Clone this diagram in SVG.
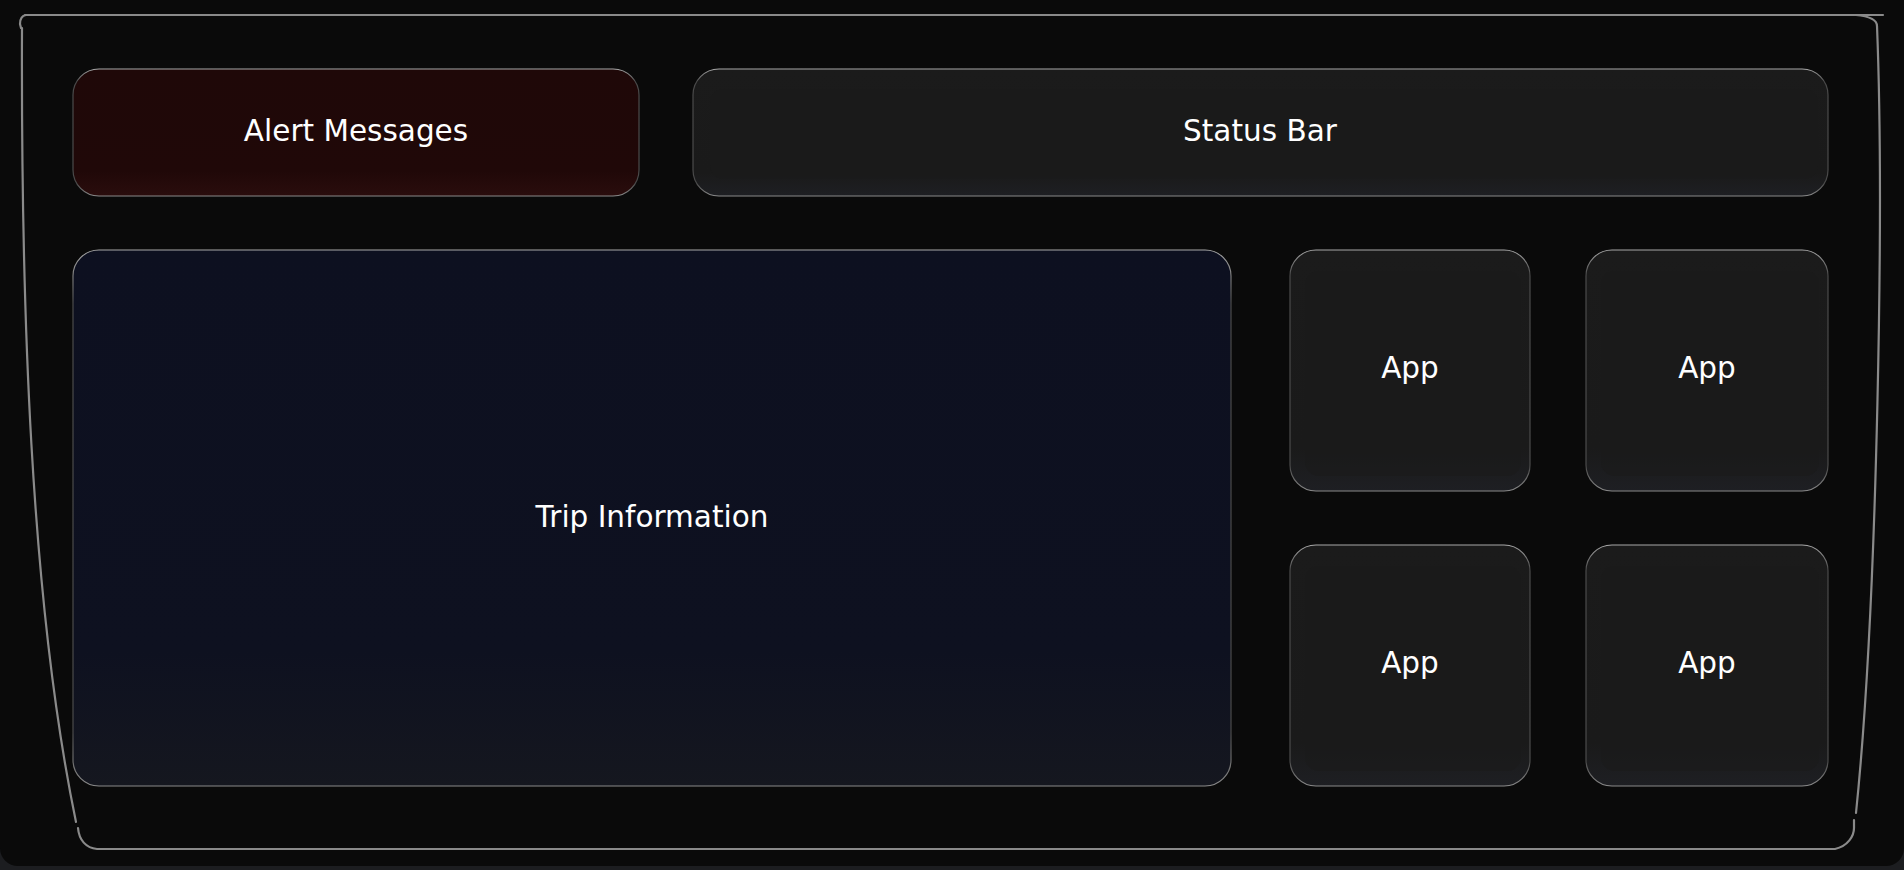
<svg xmlns="http://www.w3.org/2000/svg" width="1904" height="870" viewBox="0 0 1904 870">
  <defs>
    <style>
      .lbl { font-family: "DejaVu Sans", "Liberation Sans", sans-serif; font-size: 29.5px; fill: #ffffff; text-anchor: middle; }
      .frame { fill: none; stroke: #8a8a8a; stroke-width: 2.2; stroke-linecap: round; stroke-linejoin: round; }
      .edge { stroke: #6e6e6e; stroke-width: 1.2; }
    </style>
    <linearGradient id="gStroke" x1="0" y1="0" x2="0" y2="1">
      <stop offset="0" stop-color="#a8a8a8"/>
      <stop offset="0.1" stop-color="#4a4a4a"/>
      <stop offset="0.9" stop-color="#4a4a4a"/>
      <stop offset="1" stop-color="#8a8a8a"/>
    </linearGradient>
    <linearGradient id="gGray" x1="0" y1="0" x2="0" y2="1">
      <stop offset="0" stop-color="#1b1b1b"/>
      <stop offset="0.82" stop-color="#1a1a1a"/>
      <stop offset="1" stop-color="#1e1f23"/>
    </linearGradient>
    <linearGradient id="gRed" x1="0" y1="0" x2="0" y2="1">
      <stop offset="0" stop-color="#1f0808"/>
      <stop offset="0.8" stop-color="#200808"/>
      <stop offset="1" stop-color="#2a0d0d"/>
    </linearGradient>
    <linearGradient id="gBlue" x1="0" y1="0" x2="0" y2="1">
      <stop offset="0" stop-color="#0d1020"/>
      <stop offset="0.75" stop-color="#0e1120"/>
      <stop offset="1" stop-color="#15171f"/>
    </linearGradient>
  </defs>

  <rect x="0" y="0" width="1904" height="870" fill="#1c1d20"/>
  <rect x="0" y="-20" width="1904" height="886" rx="18" fill="#0a0a0a"/>

  <g id="frame">
    <path class="frame" d="M 25,15 L 1883,15"/>
    <path class="frame" d="M 26,15 Q 20,16 20,24 L 21,28"/>
    <path class="frame" d="M 22,28 C 21,300 30,600 76,822"/>
    <path class="frame" d="M 78,828 C 79,840 86,848 97,849 L 1835,849 C 1848,846 1854,836 1854,828 L 1854,820"/>
    <path class="frame" d="M 1856,15 Q 1877,17 1877,26"/>
    <path class="frame" d="M 1877,26 C 1884,200 1878,600 1856,813"/>
  </g>

  <g id="alert-messages">
    <rect x="73" y="69" width="566" height="127" rx="26" fill="url(#gRed)" stroke="url(#gStroke)" stroke-width="1.2"/>
    <text class="lbl" x="356" y="141">Alert Messages</text>
  </g>

  <g id="status-bar">
    <rect x="693" y="69" width="1135" height="127" rx="26" fill="url(#gGray)" stroke="url(#gStroke)" stroke-width="1.2"/>
    <rect x="710" y="89" width="1108" height="90" rx="14" fill="#1a1a1a" opacity="0.6"/>
    <text class="lbl" x="1260" y="141">Status Bar</text>
  </g>

  <g id="trip-information">
    <rect x="73" y="250" width="1158" height="536" rx="26" fill="url(#gBlue)" stroke="url(#gStroke)" stroke-width="1.2"/>
    <text class="lbl" x="652" y="527">Trip Information</text>
  </g>

  <g id="app-1">
    <rect x="1290" y="250" width="240" height="241" rx="26" fill="url(#gGray)" stroke="url(#gStroke)" stroke-width="1.2"/>
    <rect x="1305" y="271" width="216" height="205" rx="14" fill="#1a1a1a" opacity="0.6"/>
    <text class="lbl" x="1410" y="378">App</text>
  </g>

  <g id="app-2">
    <rect x="1586" y="250" width="242" height="241" rx="26" fill="url(#gGray)" stroke="url(#gStroke)" stroke-width="1.2"/>
    <rect x="1601" y="271" width="218" height="205" rx="14" fill="#1a1a1a" opacity="0.6"/>
    <text class="lbl" x="1707" y="378">App</text>
  </g>

  <g id="app-3">
    <rect x="1290" y="545" width="240" height="241" rx="26" fill="url(#gGray)" stroke="url(#gStroke)" stroke-width="1.2"/>
    <rect x="1305" y="566" width="216" height="205" rx="14" fill="#1a1a1a" opacity="0.6"/>
    <text class="lbl" x="1410" y="673">App</text>
  </g>

  <g id="app-4">
    <rect x="1586" y="545" width="242" height="241" rx="26" fill="url(#gGray)" stroke="url(#gStroke)" stroke-width="1.2"/>
    <rect x="1601" y="566" width="218" height="205" rx="14" fill="#1a1a1a" opacity="0.6"/>
    <text class="lbl" x="1707" y="673">App</text>
  </g>

  <g id="connectors"></g>
</svg>
